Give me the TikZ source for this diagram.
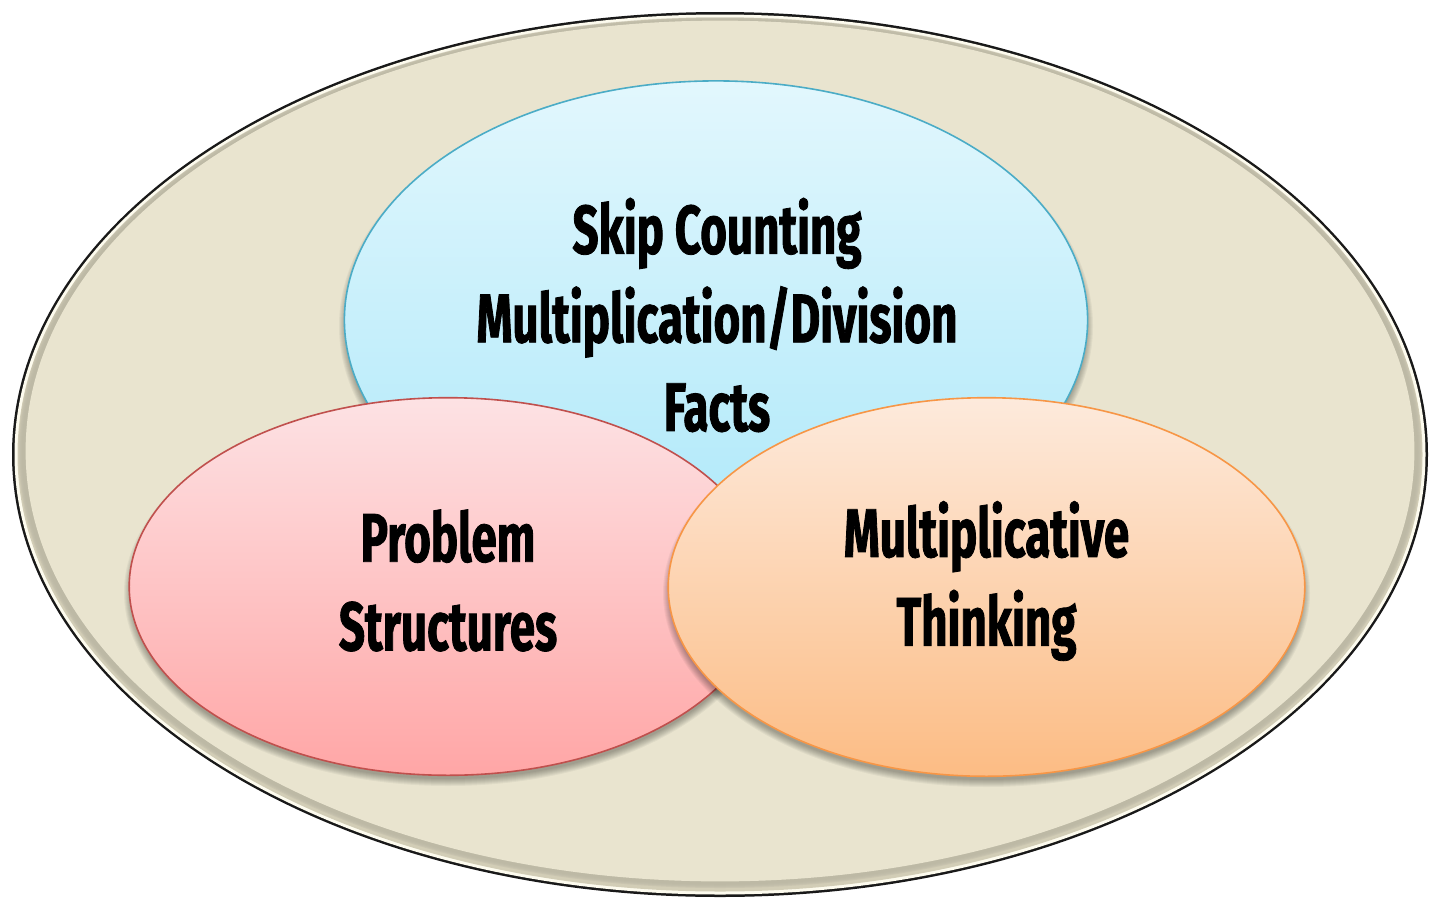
\documentclass[tikz,border=0pt]{standalone}
\usepackage{fontspec}
\newfontfamily\labelfont[FakeStretch=0.665, FakeBold=1.2]{Fira Sans}
\usetikzlibrary{shapes.geometric,calc}
\definecolor{tanfill}{HTML}{E9E4CF}
\definecolor{tanedge}{HTML}{D2CDB6}
\definecolor{creamring}{HTML}{FDFBEE}
\definecolor{bluetop}{HTML}{E2F7FD}
\definecolor{bluebot}{HTML}{ADE8F9}
\definecolor{blueline}{HTML}{4BACC6}
\definecolor{pinktop}{HTML}{FDE2E4}
\definecolor{pinkbot}{HTML}{FFA6A6}
\definecolor{pinkline}{HTML}{C0504D}
\definecolor{orangetop}{HTML}{FDEADC}
\definecolor{orangebot}{HTML}{FCBC84}
\definecolor{orangeline}{HTML}{F79646}
\tikzset{
  blob/.style={ellipse, inner sep=0pt, line width=1.6bp},
  caption/.style={inner sep=0pt, align=center,
    font=\labelfont\bfseries\fontsize{69}{89}\selectfont, text=black},
}
% soft shadow below an ellipse: centre, x radius, y radius, drop
\newcommand\softshadow[4]{%
  \foreach \k in {0,...,7}{%
    \fill[black, opacity=0.045]
      ($(#1)+(0,#4)$) ellipse [x radius={#2+4-\k}, y radius={#3+4-\k}];}}
\begin{document}
\begin{tikzpicture}[x=1bp, y=-1bp]
\useasboundingbox (0,0) rectangle (1439,909);
% outer frame ellipse with bevelled rim
\coordinate (oc) at (720,454.5);
\fill[black!90] (oc) ellipse [x radius=708, y radius=442.5];
\fill[creamring] (oc) ellipse [x radius=705.5, y radius=440];
\fill[tanedge] (oc) ellipse [x radius=702.5, y radius=437];
\foreach \k/\op in {0/0.25,1/0.2,2/0.15,3/0.1,4/0.06}{
  \fill[tanfill!75!black, opacity=\op] ($(oc)+(0,-2)$) ellipse [x radius={701.5-\k}, y radius={435.5-\k}];}
\node[ellipse, fill=tanfill, minimum width=1394, minimum height=864, inner sep=0pt] (frame) at ($(oc)+(0,-3.5)$) {};
% skip counting circle
\softshadow{716,320}{373}{240}{6}
\node[blob, draw=blueline, top color=bluetop, bottom color=bluebot,
  minimum width=746, minimum height=480] (skip) at (716,320) {};
% problem structures circle
\softshadow{448,586.5}{320}{189.5}{6}
\node[blob, draw=pinkline, top color=pinktop, bottom color=pinkbot,
  minimum width=640, minimum height=379] (prob) at (448,586.5) {};
% multiplicative thinking circle
\softshadow{986.5,587}{319.5}{190}{6}
\node[blob, draw=orangeline, top color=orangetop, bottom color=orangebot,
  minimum width=639, minimum height=380] (mult) at (986.5,587) {};
% captions
\node[caption] (skiptext) at ($(skip.center)+(1,-5)$)
  {Skip Counting\\Multiplication/Division\\Facts};
\node[caption] (probtext) at ($(prob.center)+(0,-6)$) {Problem\\Structures};
\node[caption] (multtext) at ($(mult.center)+(0,-6)$) {Multiplicative\\Thinking};
\end{tikzpicture}
\end{document}
